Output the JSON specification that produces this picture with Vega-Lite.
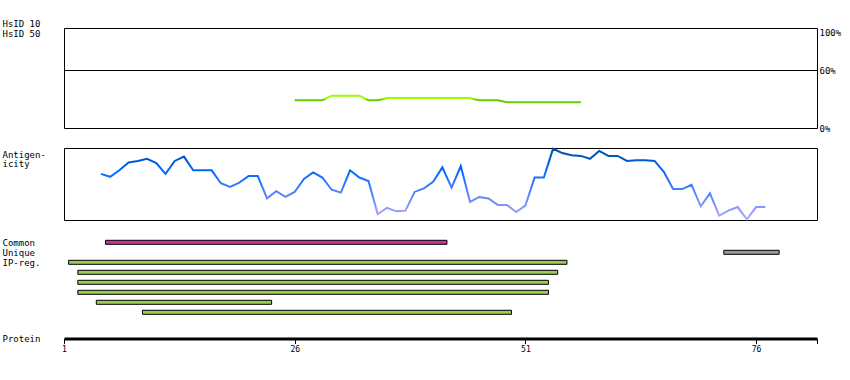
{
  "$schema": "https://vega.github.io/schema/vega-lite/v6.json",
  "padding": {"left": 1, "top": 18, "right": 2, "bottom": 5},
  "background": "white",
  "spacing": 20,
  "bounds": "flush",
  "config": {
    "view": {"stroke": "black", "strokeWidth": 1},
    "axis": {
      "labelFont": "DejaVu Sans Mono", "labelFontSize": 9, "labelColor": "black",
      "titleFont": "DejaVu Sans Mono", "titleFontSize": 9, "titleColor": "black", "titleFontWeight": "normal"
    }
  },
  "vconcat": [
    {
      "width": 753,
      "height": 100,
      "layer": [
        {
          "data": {"values": [
            {"pos": 26, "pct": 29}, {"pos": 27, "pct": 29}, {"pos": 28, "pct": 29}, {"pos": 29, "pct": 29},
            {"pos": 30, "pct": 33.7}, {"pos": 31, "pct": 33.7}, {"pos": 32, "pct": 33.7}, {"pos": 33, "pct": 33.7},
            {"pos": 34, "pct": 29}, {"pos": 35, "pct": 29},
            {"pos": 36, "pct": 31.3}, {"pos": 37, "pct": 31.3}, {"pos": 38, "pct": 31.3}, {"pos": 39, "pct": 31.3},
            {"pos": 40, "pct": 31.3}, {"pos": 41, "pct": 31.3}, {"pos": 42, "pct": 31.3}, {"pos": 43, "pct": 31.3},
            {"pos": 44, "pct": 31.3}, {"pos": 45, "pct": 31.3},
            {"pos": 46, "pct": 29}, {"pos": 47, "pct": 29}, {"pos": 48, "pct": 29},
            {"pos": 49, "pct": 26.9}, {"pos": 50, "pct": 26.9}, {"pos": 51, "pct": 26.9}, {"pos": 52, "pct": 26.9},
            {"pos": 53, "pct": 26.9}, {"pos": 54, "pct": 26.9}, {"pos": 55, "pct": 26.9}, {"pos": 56, "pct": 26.9},
            {"pos": 57, "pct": 26.9}
          ]},
          "mark": {
            "type": "line", "strokeWidth": 2, "interpolate": "linear",
            "stroke": {"gradient": "linear", "x1": 0, "y1": 0, "x2": 0, "y2": 1,
              "stops": [
                {"offset": 0, "color": "#99ff00"}, {"offset": 0.5, "color": "#99ff00"},
                {"offset": 0.52, "color": "#66cc00"}, {"offset": 1, "color": "#66cc00"}
              ]}
          },
          "encoding": {
            "x": {"field": "pos", "type": "quantitative", "scale": {"domain": [1, 82.6], "nice": false, "zero": false}, "axis": null},
            "y": {"field": "pct", "type": "quantitative", "scale": {"domain": [0, 104.35], "nice": false},
              "axis": {"orient": "right", "values": [0, 60, 100], "labelExpr": "datum.value + '%'",
                "ticks": false, "tickSize": 0, "domain": false, "grid": false, "title": null, "labelPadding": 2,
                "labelBaseline": "middle"}}
          }
        },
        {
          "data": {"values": [{"level": 60}]},
          "mark": {"type": "rule", "color": "black", "strokeWidth": 1},
          "encoding": {
            "y": {"field": "level", "type": "quantitative", "scale": {"domain": [0, 104.35], "nice": false},
              "axis": {"orient": "left", "labels": false, "ticks": false, "domain": false, "grid": false,
                "title": ["HsID 10", "HsID 50"], "titleAngle": 0, "titleAlign": "left", "titleBaseline": "top",
                "titleX": -62, "titleY": -9, "titleLineHeight": 10}}
          }
        }
      ],
      "resolve": {"axis": {"y": "independent"}}
    },
    {
      "width": 753,
      "height": 72,
      "data": {"values": [
        {"pos": 5, "v": 0.64}, {"pos": 6, "v": 0.60}, {"pos": 7, "v": 0.69}, {"pos": 8, "v": 0.80},
        {"pos": 9, "v": 0.82}, {"pos": 10, "v": 0.85}, {"pos": 11, "v": 0.79}, {"pos": 12, "v": 0.64},
        {"pos": 13, "v": 0.82}, {"pos": 14, "v": 0.88}, {"pos": 15, "v": 0.69}, {"pos": 16, "v": 0.69},
        {"pos": 17, "v": 0.69}, {"pos": 18, "v": 0.51}, {"pos": 19, "v": 0.46}, {"pos": 20, "v": 0.52},
        {"pos": 21, "v": 0.61}, {"pos": 22, "v": 0.61}, {"pos": 23, "v": 0.30}, {"pos": 24, "v": 0.40},
        {"pos": 25, "v": 0.32}, {"pos": 26, "v": 0.39}, {"pos": 27, "v": 0.57}, {"pos": 28, "v": 0.66},
        {"pos": 29, "v": 0.59}, {"pos": 30, "v": 0.42}, {"pos": 31, "v": 0.38}, {"pos": 32, "v": 0.69},
        {"pos": 33, "v": 0.59}, {"pos": 34, "v": 0.54}, {"pos": 35, "v": 0.08}, {"pos": 36, "v": 0.17},
        {"pos": 37, "v": 0.12}, {"pos": 38, "v": 0.13}, {"pos": 39, "v": 0.39}, {"pos": 40, "v": 0.44},
        {"pos": 41, "v": 0.53}, {"pos": 42, "v": 0.73}, {"pos": 43, "v": 0.45}, {"pos": 44, "v": 0.75},
        {"pos": 45, "v": 0.25}, {"pos": 46, "v": 0.32}, {"pos": 47, "v": 0.30}, {"pos": 48, "v": 0.21},
        {"pos": 49, "v": 0.21}, {"pos": 50, "v": 0.11}, {"pos": 51, "v": 0.20}, {"pos": 52, "v": 0.59},
        {"pos": 53, "v": 0.59}, {"pos": 54, "v": 0.99}, {"pos": 55, "v": 0.93}, {"pos": 56, "v": 0.90},
        {"pos": 57, "v": 0.89}, {"pos": 58, "v": 0.85}, {"pos": 59, "v": 0.96}, {"pos": 60, "v": 0.89},
        {"pos": 61, "v": 0.89}, {"pos": 62, "v": 0.82}, {"pos": 63, "v": 0.83}, {"pos": 64, "v": 0.83},
        {"pos": 65, "v": 0.82}, {"pos": 66, "v": 0.67}, {"pos": 67, "v": 0.43}, {"pos": 68, "v": 0.43},
        {"pos": 69, "v": 0.49}, {"pos": 70, "v": 0.19}, {"pos": 71, "v": 0.37}, {"pos": 72, "v": 0.06},
        {"pos": 73, "v": 0.13}, {"pos": 74, "v": 0.18}, {"pos": 75, "v": 0.01}, {"pos": 76, "v": 0.18},
        {"pos": 77, "v": 0.18}
      ]},
      "mark": {
        "type": "line", "strokeWidth": 2,
        "stroke": {"gradient": "linear", "x1": 0, "y1": 0, "x2": 0, "y2": 1,
          "stops": [
            {"offset": 0, "color": "#004fa8"}, {"offset": 0.15, "color": "#0058c8"},
            {"offset": 0.3, "color": "#0066ff"}, {"offset": 0.5, "color": "#3377ff"},
            {"offset": 0.7, "color": "#6688ff"}, {"offset": 0.88, "color": "#9999ff"},
            {"offset": 1, "color": "#aaaaff"}
          ]}
      },
      "encoding": {
        "x": {"field": "pos", "type": "quantitative", "scale": {"domain": [1, 82.6], "nice": false, "zero": false}, "axis": null},
        "y": {"field": "v", "type": "quantitative", "scale": {"domain": [0, 1], "nice": false},
          "axis": {"orient": "left", "labels": false, "ticks": false, "domain": false, "grid": false,
            "title": ["Antigen-", "icity"], "titleAngle": 0, "titleAlign": "left", "titleBaseline": "top",
            "titleX": -62, "titleY": 2, "titleLineHeight": 9}}
      }
    },
    {
      "width": 753,
      "height": 74.6,
      "view": {"stroke": null},
      "data": {"values": [
        {"row": "Common", "start": 5.5, "end": 42.5, "kind": "common"},
        {"row": "Unique", "start": 72.5, "end": 78.5, "kind": "unique"},
        {"row": "IP-reg.", "start": 1.5, "end": 55.5, "kind": "ip"},
        {"row": "IP-reg. 2", "start": 2.5, "end": 54.5, "kind": "ip"},
        {"row": "IP-reg. 3", "start": 2.5, "end": 53.5, "kind": "ip"},
        {"row": "IP-reg. 4", "start": 2.5, "end": 53.5, "kind": "ip"},
        {"row": "IP-reg. 5", "start": 4.5, "end": 23.5, "kind": "ip"},
        {"row": "IP-reg. 6", "start": 9.5, "end": 49.5, "kind": "ip"}
      ]},
      "mark": {"type": "bar", "height": 4, "stroke": "black", "strokeWidth": 1},
      "encoding": {
        "x": {"field": "start", "type": "quantitative", "scale": {"domain": [1, 82.6], "nice": false, "zero": false},
          "axis": {"orient": "bottom", "offset": 24, "values": [1, 26, 51, 76, 82.6],
            "labelExpr": "datum.value > 80 ? '' : datum.label", "labelFlush": false, "labelOverlap": false,
            "labelFontSize": 8, "labelPadding": 2,
            "domainWidth": 3, "domainColor": "black", "tickColor": "black", "tickSize": 5, "tickWidth": 1,
            "grid": false, "title": "Protein", "titleX": -62, "titleY": 0, "titleAlign": "left",
            "titleBaseline": "middle", "titleAngle": 0}},
        "x2": {"field": "end"},
        "y": {"field": "row", "type": "ordinal",
          "scale": {"type": "point", "padding": 0.23,
            "domain": ["Common", "Unique", "IP-reg.", "IP-reg. 2", "IP-reg. 3", "IP-reg. 4", "IP-reg. 5", "IP-reg. 6"]},
          "axis": {"orient": "left", "ticks": false, "tickSize": 0, "domain": false, "grid": false, "title": null,
            "labelAlign": "left", "labelPadding": 62, "labelBaseline": "middle",
            "labelExpr": "indexof(datum.label, ' ') > 0 ? '' : datum.label"}},
        "color": {"field": "kind", "type": "nominal",
          "scale": {"domain": ["common", "unique", "ip"], "range": ["#cc3399", "#999999", "#99cc55"]},
          "legend": null}
      }
    }
  ]
}
